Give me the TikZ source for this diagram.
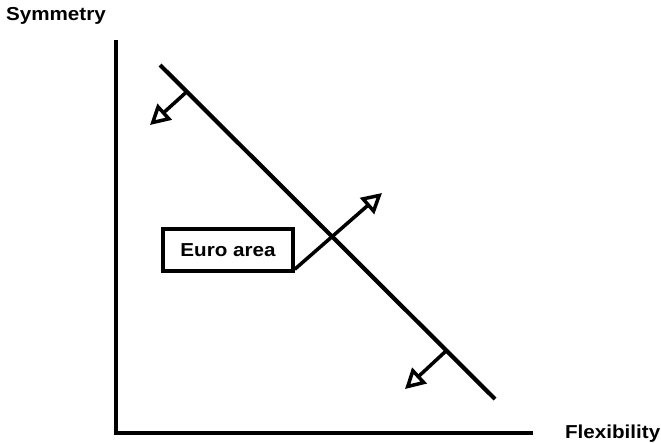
\documentclass[tikz,border=0pt]{standalone}
\usepackage{fontspec}
\newfontfamily\lblfont{Liberation Sans}[FakeStretch=1.1]
\usetikzlibrary{positioning, arrows.meta, calc}

\begin{document}
\begin{tikzpicture}[x=0.03cm, y=-0.03cm, line width=3.6pt,
    lbl/.style={font=\lblfont\fontsize{16}{19}\selectfont\bfseries, inner sep=0pt},
    box/.style={draw, line width=3pt, minimum width=3.9cm, minimum height=1.26cm,
                font=\lblfont\fontsize{16}{19}\selectfont\bfseries, inner sep=0pt},
    move/.style={-{Triangle[length=17pt, width=18pt, fill=white]}, line width=3pt}]
  \useasboundingbox (0,0) rectangle (661,443);
  % axes
  \coordinate (ytop) at (116,40);
  \coordinate (o) at (116,433);
  \coordinate (xend) at (533,433);
  \draw (ytop) -- (o) -- (xend);
  \node[lbl, anchor=base west] (ylab) at (4,20) {Symmetry};
  \node[lbl, anchor=base west] (xlab) at (563,438) {Flexibility};
  % frontier
  \coordinate (a) at (160,65);
  \coordinate (b) at (495,399);
  \draw (a) -- (b);
  % shifts
  \coordinate (p1) at ($(a)!0.08!(b)$);
  \coordinate (t1) at (150,125);
  \coordinate (p3) at ($(a)!0.855!(b)$);
  \coordinate (t3) at (405,389);
  \draw[move] (p1) -- (t1);
  \draw[move] (p3) -- (t3);
  \node[box] (euro) at (228,250) {Euro area};
  \coordinate (t2) at (382,193);
  \draw[move] ([yshift=3pt]euro.south east) -- (t2);
\end{tikzpicture}
\end{document}
